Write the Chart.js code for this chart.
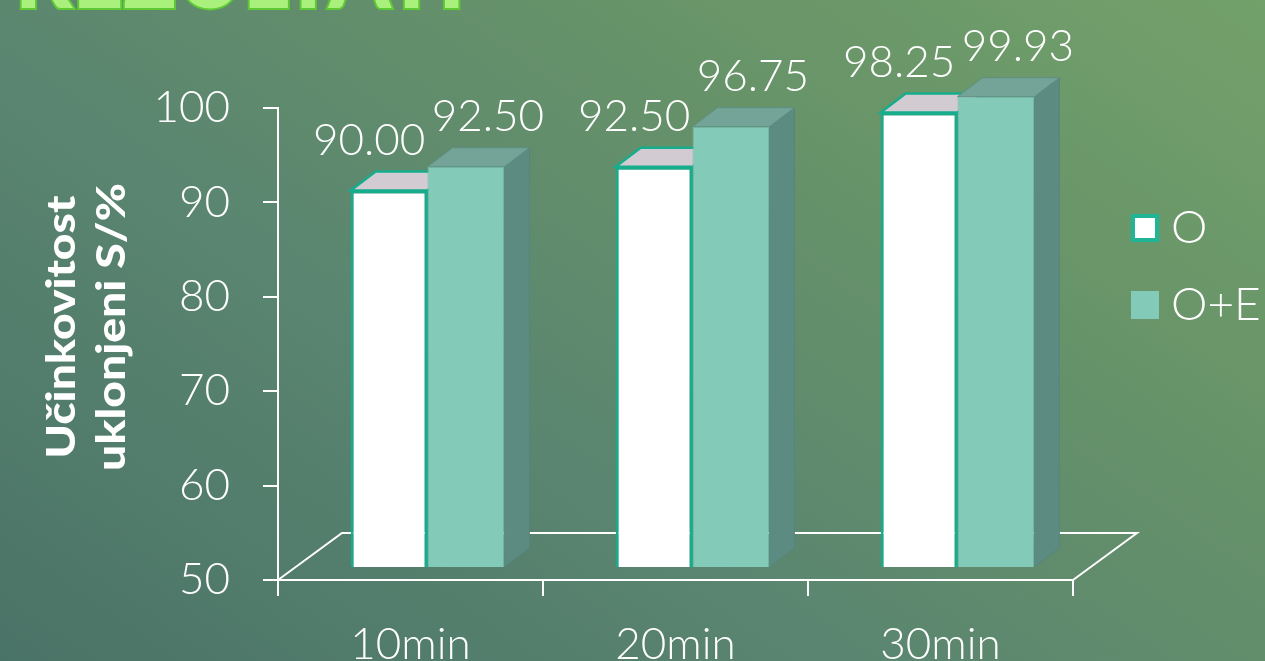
<!DOCTYPE html>
<html lang="sl">
<head>
<meta charset="utf-8">
<title>Rezultati</title>
<script src="https://cdn.jsdelivr.net/npm/chart.js@4.4.1/dist/chart.umd.min.js"></script>
<style>
    html, body {
        margin: 0;
        padding: 0;
        width: 1265px;
        height: 661px;
        overflow: hidden;
    }
    body {
        background: linear-gradient(35deg, #4a7367 0%, #5a8570 38%, #679369 70%, #73a16a 100%);
    }
    #chartBox {
        position: relative;
        width: 1265px;
        height: 661px;
    }
</style>
</head>
<body>
<div id="chartBox">
    <canvas id="efficiencyChart" width="1265" height="661"></canvas>
</div>
<script>
// Chart data
const slideTitle = 'REZULTATI';
const categories = ['10min', '20min', '30min'];
const seriesNames = ['O', 'O+E'];
const valuesO = [90.00, 92.50, 98.25];
const valuesOE = [92.50, 96.75, 99.93];
const yMin = 50;
const yMax = 100;
const yStep = 10;
const axisTitle = ['Učinkovitost', 'uklonjeni S/%'];

const thinFont = '"Lato", "Open Sans", "DejaVu Sans", sans-serif';
const boldFont = '"Lato", "Open Sans", "DejaVu Sans", sans-serif';

// 3D look: depth of each bar and shift of the bar row into the floor
const DEPTH_X = 25, DEPTH_Y = -19;
const SHIFT_X = 17, SHIFT_Y = -12;
const FLOOR_X = 64, FLOOR_Y = -47;

function facePath(ctx, pts) {
    ctx.beginPath();
    ctx.moveTo(pts[0][0], pts[0][1]);
    for (let i = 1; i < pts.length; i++) ctx.lineTo(pts[i][0], pts[i][1]);
    ctx.closePath();
}

// floor, top and side faces of the bars
const bar3d = {
    id: 'bar3d',
    beforeDatasetsDraw(chart) {
        const ctx = chart.ctx;
        const a = chart.chartArea;
        ctx.save();
        ctx.strokeStyle = '#ffffff';
        ctx.lineWidth = 2;
        ctx.beginPath();
        ctx.moveTo(a.left, a.bottom);
        ctx.lineTo(a.left + FLOOR_X, a.bottom + FLOOR_Y);
        ctx.lineTo(a.right + FLOOR_X, a.bottom + FLOOR_Y);
        ctx.lineTo(a.right, a.bottom);
        ctx.stroke();
        ctx.restore();

        ctx.save();
        ctx.translate(SHIFT_X, SHIFT_Y);
        chart.data.datasets.forEach((ds, di) => {
            const meta = chart.getDatasetMeta(di);
            meta.data.forEach(bar => {
                const {x, y, base, width} = bar.getProps(['x', 'y', 'base', 'width'], true);
                const l = x - width / 2, r = x + width / 2;
                facePath(ctx, [[r, y], [r + DEPTH_X, y + DEPTH_Y], [r + DEPTH_X, base + DEPTH_Y], [r, base]]);
                ctx.fillStyle = ds.sideColor;
                ctx.fill();
                ctx.lineWidth = 1;
                ctx.strokeStyle = ds.edgeColor;
                ctx.stroke();
                facePath(ctx, [[l, y], [l + DEPTH_X, y + DEPTH_Y], [r + DEPTH_X, y + DEPTH_Y], [r, y]]);
                ctx.fillStyle = ds.topColor;
                ctx.fill();
                ctx.lineWidth = ds.topEdgeWidth;
                ctx.strokeStyle = ds.topEdgeColor;
                ctx.stroke();
            });
        });
    },
    afterDatasetsDraw(chart) {
        const ctx = chart.ctx;
        ctx.restore();

        // value labels above each bar
        ctx.save();
        ctx.fillStyle = '#ffffff';
        ctx.font = '300 44px ' + thinFont;
        ctx.textAlign = 'center';
        ctx.textBaseline = 'middle';
        chart.data.datasets.forEach((ds, di) => {
            const meta = chart.getDatasetMeta(di);
            meta.data.forEach((bar, i) => {
                const txt = ds.data[i].toFixed(2);
                ctx.fillText(txt, bar.x + SHIFT_X + ds.labelDx, bar.y + SHIFT_Y - 50);
            });
        });
        ctx.restore();
    }
};

// slide heading, axis title and legend
const decorations = {
    id: 'decorations',
    afterDraw(chart) {
        const ctx = chart.ctx;

        // heading, mostly above the visible area
        ctx.save();
        ctx.font = '900 90px ' + boldFont;
        const w = ctx.measureText(slideTitle).width;
        ctx.translate(15, 8);
        ctx.scale(450 / w, 1);
        ctx.lineWidth = 4;
        ctx.strokeStyle = '#5ec935';
        ctx.fillStyle = '#a9f07c';
        ctx.strokeText(slideTitle, 0, 0);
        ctx.fillText(slideTitle, 0, 0);
        ctx.restore();

        // rotated y axis title, stretched along the axis
        ctx.save();
        ctx.fillStyle = '#ffffff';
        ctx.font = '900 39px ' + boldFont;
        ctx.textAlign = 'center';
        ctx.textBaseline = 'middle';
        const tw = ctx.measureText(axisTitle[0]).width;
        ctx.translate(62, 327);
        ctx.rotate(-Math.PI / 2);
        ctx.scale(263 / tw, 1);
        axisTitle.forEach((line, i) => ctx.fillText(line, 0, i * 50));
        ctx.restore();

        // legend
        ctx.save();
        const lx = 1131, size = 28;
        const rows = [228, 305];
        ctx.font = '300 46px ' + thinFont;
        ctx.textBaseline = 'middle';
        chart.data.datasets.forEach((ds, i) => {
            const cy = rows[i];
            ctx.fillStyle = ds.legendBorder;
            ctx.fillRect(lx, cy - size / 2, size, size);
            ctx.fillStyle = ds.backgroundColor;
            const b = ds.legendBorderWidth;
            ctx.fillRect(lx + b, cy - size / 2 + b, size - 2 * b, size - 2 * b);
            ctx.fillStyle = '#ffffff';
            ctx.fillText(ds.label, lx + 40, cy);
        });
        ctx.restore();
    }
};

const ctx = document.getElementById('efficiencyChart').getContext('2d');

const efficiencyChart = new Chart(ctx, {
    type: 'bar',
    data: {
        labels: categories,
        datasets: [
            {
                label: seriesNames[0],
                data: valuesO,
                base: yMin,
                backgroundColor: '#ffffff',
                borderColor: '#17ad8c',
                borderWidth: 3,
                sideColor: '#5f9084',
                topColor: '#d3cbd2',
                topEdgeColor: '#17ad8c',
                topEdgeWidth: 2.5,
                edgeColor: '#17ad8c',
                legendBorder: '#1fb597',
                legendBorderWidth: 4,
                labelDx: -20
            },
            {
                label: seriesNames[1],
                data: valuesOE,
                base: yMin,
                backgroundColor: '#83cab9',
                borderColor: '#74b9a8',
                borderWidth: 1,
                sideColor: '#5c8c81',
                topColor: '#73a497',
                topEdgeColor: '#5f8f83',
                topEdgeWidth: 1,
                edgeColor: '#55857a',
                legendBorder: '#83cab9',
                legendBorderWidth: 0,
                labelDx: 22
            }
        ]
    },
    options: {
        responsive: false,
        animation: false,
        layout: {
            padding: {left: 0, top: 108, right: 192, bottom: 0}
        },
        datasets: {
            bar: {
                categoryPercentage: 0.58,
                barPercentage: 1
            }
        },
        plugins: {
            legend: {display: false},
            tooltip: {enabled: false}
        },
        scales: {
            x: {
                afterFit(scale) {
                    scale.height = 81;
                },
                grid: {
                    drawOnChartArea: false,
                    drawTicks: true,
                    tickLength: 16,
                    color: '#ffffff',
                    lineWidth: 2
                },
                border: {
                    color: '#ffffff',
                    width: 2
                },
                ticks: {
                    color: '#ffffff',
                    padding: 22,
                    font: {family: thinFont, size: 44, weight: 300}
                }
            },
            y: {
                min: yMin,
                max: yMax,
                afterFit(scale) {
                    scale.width = 278;
                },
                grid: {
                    drawOnChartArea: false,
                    drawTicks: true,
                    tickLength: 15,
                    color: '#ffffff',
                    lineWidth: 2
                },
                border: {
                    color: '#ffffff',
                    width: 2
                },
                ticks: {
                    stepSize: yStep,
                    color: '#ffffff',
                    padding: 33,
                    font: {family: thinFont, size: 44, weight: 300}
                }
            }
        }
    },
    plugins: [bar3d, decorations]
});
</script>
</body>
</html>
